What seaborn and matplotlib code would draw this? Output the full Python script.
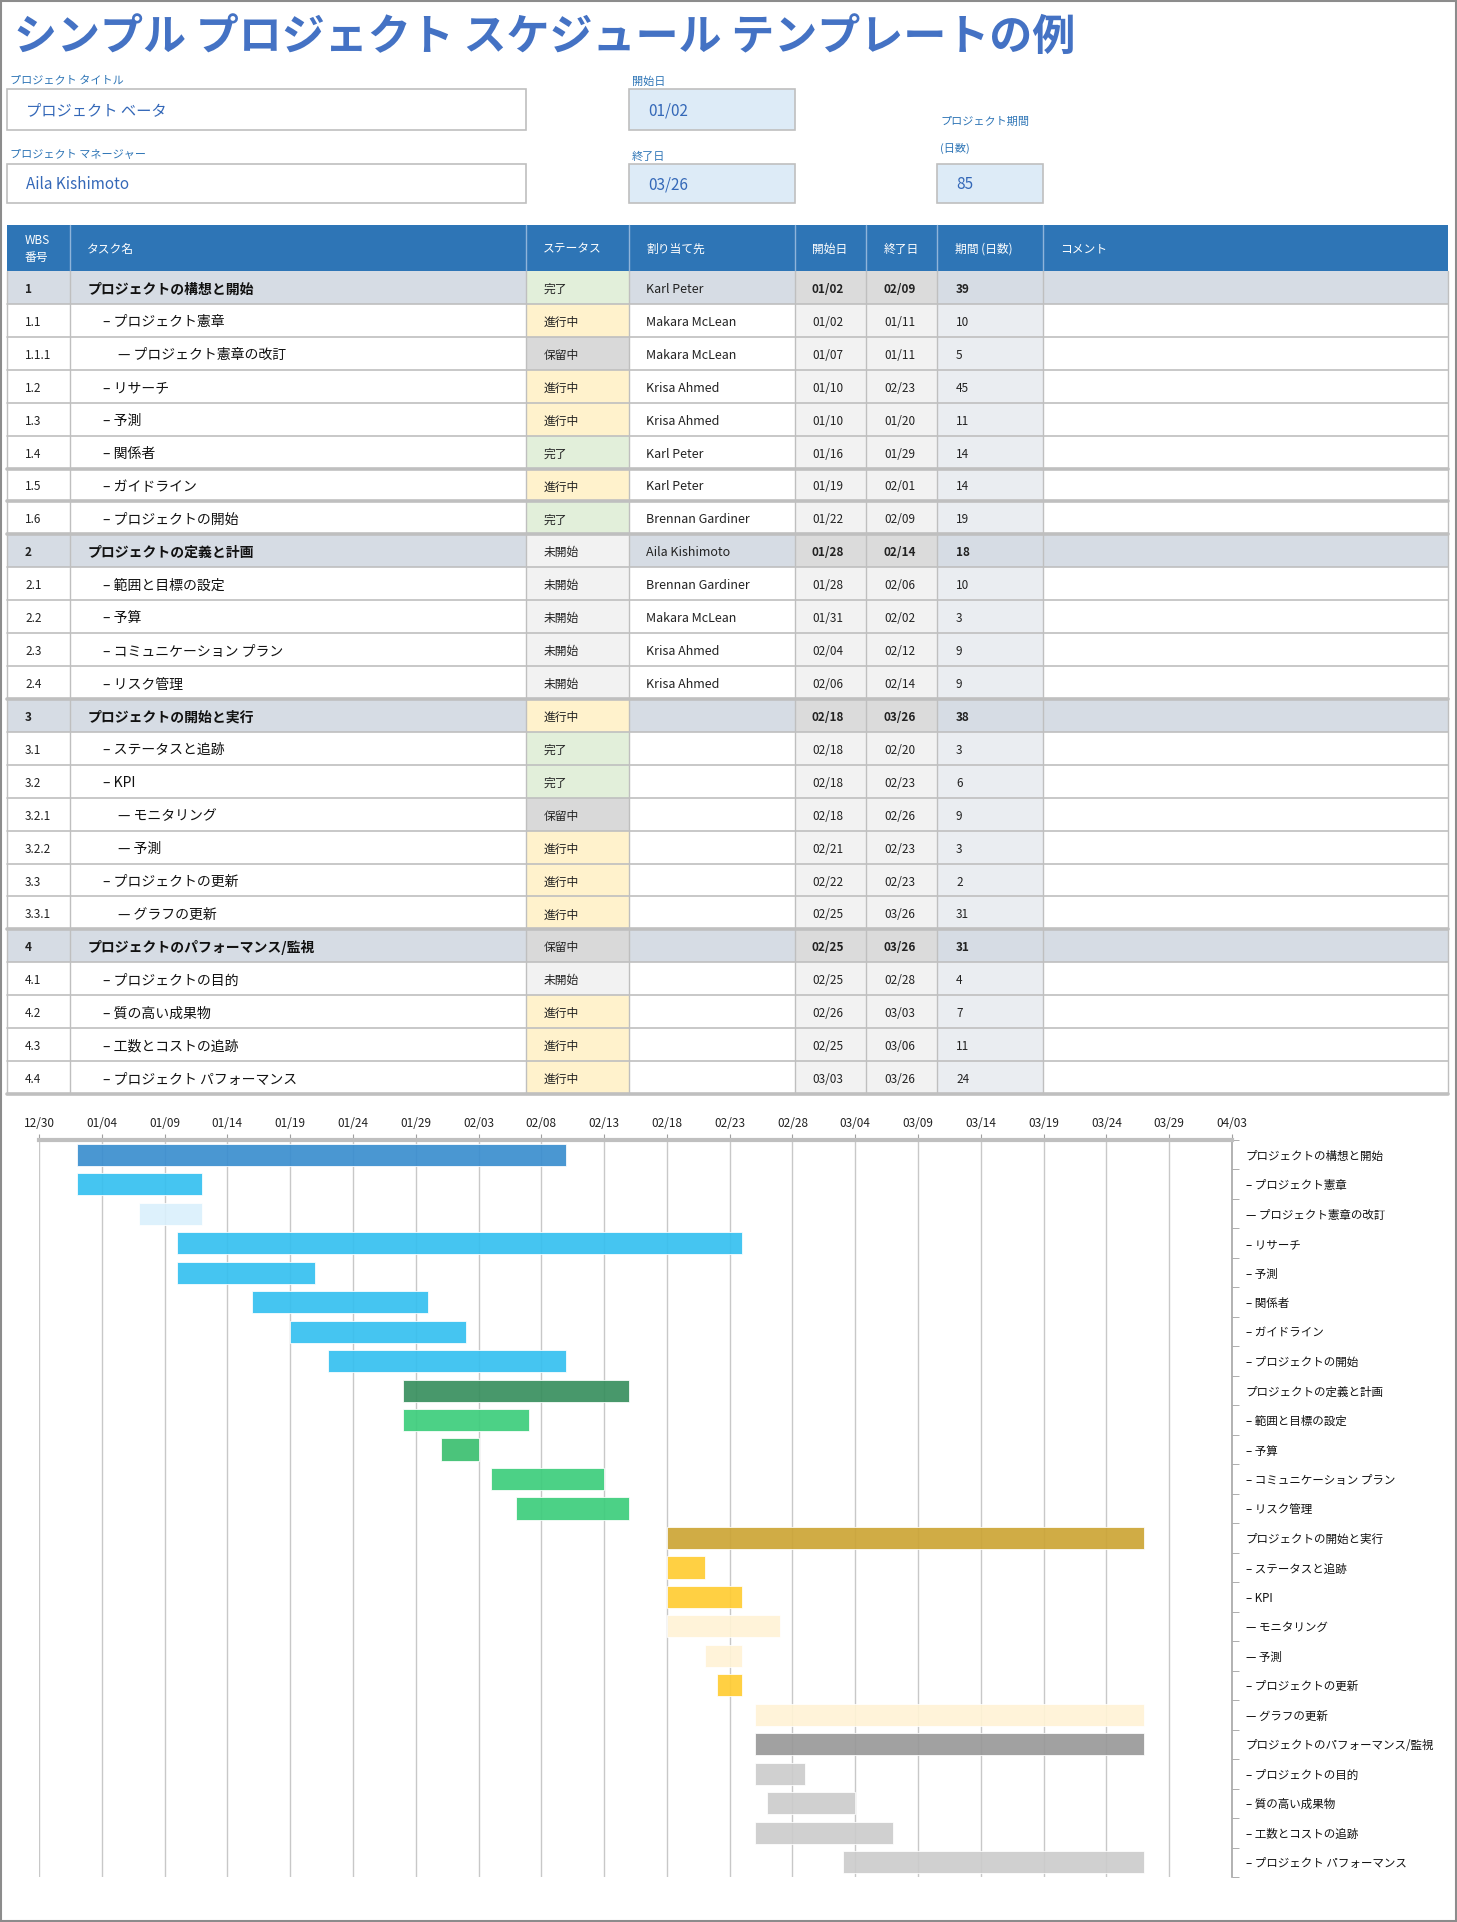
import numpy as np
import pandas as pd
import matplotlib
matplotlib.use('Agg')
import matplotlib.pyplot as plt
from matplotlib.patches import Rectangle
import seaborn as sns

# ヘッダー情報
page_title = 'シンプル プロジェクト スケジュール テンプレートの例'
project_title = 'プロジェクト ベータ'
project_manager = 'Aila Kishimoto'
project_start = '01/02'
project_end = '03/26'
project_days = '85'

# タスク表のデータ
wbs = ['1', '1.1', '1.1.1', '1.2', '1.3', '1.4', '1.5', '1.6',
       '2', '2.1', '2.2', '2.3', '2.4',
       '3', '3.1', '3.2', '3.2.1', '3.2.2', '3.3', '3.3.1',
       '4', '4.1', '4.2', '4.3', '4.4']
tasks = ['プロジェクトの構想と開始', '– プロジェクト憲章', '— プロジェクト憲章の改訂',
         '– リサーチ', '– 予測', '– 関係者', '– ガイドライン', '– プロジェクトの開始',
         'プロジェクトの定義と計画', '– 範囲と目標の設定', '– 予算',
         '– コミュニケーション プラン', '– リスク管理',
         'プロジェクトの開始と実行', '– ステータスと追跡', '– KPI', '— モニタリング',
         '— 予測', '– プロジェクトの更新', '— グラフの更新',
         'プロジェクトのパフォーマンス/監視', '– プロジェクトの目的', '– 質の高い成果物',
         '– 工数とコストの追跡', '– プロジェクト パフォーマンス']
status = ['完了', '進行中', '保留中', '進行中', '進行中', '完了', '進行中', '完了',
          '未開始', '未開始', '未開始', '未開始', '未開始',
          '進行中', '完了', '完了', '保留中', '進行中', '進行中', '進行中',
          '保留中', '未開始', '進行中', '進行中', '進行中']
assignees = ['Karl Peter', 'Makara McLean', 'Makara McLean', 'Krisa Ahmed',
             'Krisa Ahmed', 'Karl Peter', 'Karl Peter', 'Brennan Gardiner',
             'Aila Kishimoto', 'Brennan Gardiner', 'Makara McLean', 'Krisa Ahmed',
             'Krisa Ahmed'] + [''] * 12
start_dates = ['01/02', '01/02', '01/07', '01/10', '01/10', '01/16', '01/19', '01/22',
               '01/28', '01/28', '01/31', '02/04', '02/06',
               '02/18', '02/18', '02/18', '02/18', '02/21', '02/22', '02/25',
               '02/25', '02/25', '02/26', '02/25', '03/03']
end_dates = ['02/09', '01/11', '01/11', '02/23', '01/20', '01/29', '02/01', '02/09',
             '02/14', '02/06', '02/02', '02/12', '02/14',
             '03/26', '02/20', '02/23', '02/26', '02/23', '02/23', '03/26',
             '03/26', '02/28', '03/03', '03/06', '03/26']
durations = [39, 10, 5, 45, 11, 14, 14, 19,
             18, 10, 3, 9, 9,
             38, 3, 6, 9, 3, 2, 31,
             31, 4, 7, 11, 24]
tick_dates = ['12/30', '01/04', '01/09', '01/14', '01/19', '01/24', '01/29', '02/03',
              '02/08', '02/13', '02/18', '02/23', '02/28', '03/04', '03/09', '03/14',
              '03/19', '03/24', '03/29', '04/03']

# ガントバーの色
bar_colors = ['#3A8ECF', '#35C0F0', '#DAF0FC', '#35C0F0', '#35C0F0', '#35C0F0', '#35C0F0', '#35C0F0',
              '#388F5E', '#3DCD7C', '#3BBF70', '#3DCD7C', '#3DCD7C',
              '#CCA535', '#FFCC33', '#FFCC33', '#FFF3D6', '#FFF3D6', '#FFCC33', '#FFF3D6',
              '#999999', '#CCCCCC', '#CCCCCC', '#CCCCCC', '#CCCCCC']
status_colors = {'完了': '#E2EFDA', '進行中': '#FFF2CC', '保留中': '#D9D9D9', '未開始': '#F2F2F2'}

sns.set_style('white')
plt.rcParams['font.family'] = ['Noto Sans CJK JP', 'DejaVu Sans']

W, H = 1457, 1922
fig = plt.figure(figsize=(W / 100, H / 100), dpi=100)
ax = fig.add_axes([0, 0, 1, 1])
ax.set_xlim(0, W)
ax.set_ylim(H, 0)
ax.axis('off')

blue = '#2E75B6'
line = '#BFBFBF'

# タイトルと入力欄
ax.text(14, 37, page_title, fontsize=31, fontweight='bold', color='#4472C4', va='center')

def field(label_lines, x, y_label, box, value, fill):
    for k, t in enumerate(label_lines):
        ax.text(x + 3, y_label + k * 26, t, fontsize=8, color=blue, va='center')
    bx, by, bw, bh = box
    ax.add_patch(Rectangle((bx, by), bw, bh, facecolor=fill, edgecolor=line, lw=1.2))
    ax.text(bx + 19, by + bh / 2 + 1, value, fontsize=11, color='#3468B8', va='center')

field(['プロジェクト タイトル'], 7, 81, (7, 89, 519, 41), project_title, 'white')
field(['プロジェクト マネージャー'], 7, 155, (7, 164, 519, 39), project_manager, 'white')
field(['開始日'], 629, 82, (629, 89, 166, 41), project_start, '#DDEBF7')
field(['終了日'], 629, 157, (629, 164, 166, 39), project_end, '#DDEBF7')
field(['プロジェクト期間', '(日数)'], 937, 122, (937, 164, 106, 39), project_days, '#DDEBF7')

# 表
cols = [7, 70, 526, 629, 795, 866, 937, 1043, 1448]
head_top, head_bot, tab_bot = 225, 271, 1094
rh = (tab_bot - head_bot) / len(wbs)

ax.add_patch(Rectangle((cols[0], head_top), cols[-1] - cols[0], head_bot - head_top,
                       facecolor=blue, edgecolor='none'))
hy = (head_top + head_bot) / 2 + 1
ax.text(25, hy, 'WBS\n番号', fontsize=8.5, color='white', va='center', linespacing=1.3)
for x, t in zip([87, 543, 646, 812, 884, 955, 1060],
                ['タスク名', 'ステータス', '割り当て先', '開始日', '終了日', '期間 (日数)', 'コメント']):
    ax.text(x, hy, t, fontsize=8.5, color='white', va='center')
for x in cols[1:-1]:
    ax.plot([x, x], [head_top, head_bot], color='#8FB4DA', lw=1)

for i in range(len(wbs)):
    level = wbs[i].count('.')
    group = level == 0
    y0 = head_bot + i * rh
    base = '#D6DCE4' if group else 'white'
    fills = [base, base, status_colors[status[i]], base,
             '#DBDBDB' if group else '#F2F2F2', '#DBDBDB' if group else '#F2F2F2',
             '#D6DCE4' if group else '#EAEDF1', base]
    for j in range(8):
        ax.add_patch(Rectangle((cols[j], y0), cols[j + 1] - cols[j], rh,
                               facecolor=fills[j], edgecolor='none'))
    yc = y0 + rh / 2 + 2
    fw = 'bold' if group else 'normal'
    ax.text(25, yc, wbs[i], fontsize=8.5, fontweight=fw, va='center', color='#222')
    ax.text(88 + 15 * level, yc, tasks[i], fontsize=10, fontweight=fw, va='center', color='#111')
    ax.text(544, yc, status[i], fontsize=8.5, va='center', color='#222')
    ax.text(646, yc, assignees[i], fontsize=9, va='center', color='#222')
    ax.text(812, yc, start_dates[i], fontsize=8.5, fontweight=fw, va='center', color='#222')
    ax.text(884, yc, end_dates[i], fontsize=8.5, fontweight=fw, va='center', color='#222')
    ax.text(956, yc, str(durations[i]), fontsize=8.5, fontweight=fw, va='center', color='#222')

thick = {6, 7, 8, 13, 20, 25}
for i in range(1, len(wbs) + 1):
    y = head_bot + i * rh
    ax.plot([cols[0], cols[-1]], [y, y], color=line, lw=2.6 if i in thick else 1.2)
for x in cols:
    ax.plot([x, x], [head_bot, tab_bot], color=line, lw=1)

# ガントチャート
base_day = pd.Timestamp('2023-12-30')

def to_day(s):
    year = 2023 if s.startswith('12') else 2024
    return (pd.Timestamp(f'{year}/{s}') - base_day).days

gantt = pd.DataFrame({'wbs': wbs, 'task': tasks, 'days': durations,
                      'start': [to_day(d) for d in start_dates]})
tick_pos = [to_day(d) for d in tick_dates]

g_left, g_right, g_top, g_bot = 39, 1232, 1140, 1877
axg = fig.add_axes([g_left / W, 1 - g_bot / H, (g_right - g_left) / W, (g_bot - g_top) / H])
sns.barplot(data=gantt, x='days', y='wbs', order=wbs, orient='y', left=gantt['start'].values,
            width=0.75, color=bar_colors[0], saturation=1, errorbar=None,
            edgecolor='white', linewidth=0.6, alpha=0.92, ax=axg)
for p, c in zip(axg.patches, bar_colors):
    p.set_facecolor(c)

axg.set_xlim(tick_pos[0], tick_pos[-1])
axg.set_xticks(tick_pos)
axg.set_xticklabels(tick_dates, fontsize=8.5, color='#222')
axg.xaxis.tick_top()
axg.tick_params(axis='x', top=True, length=4, color='#A0A0A0', pad=3)
axg.grid(axis='x', color='#C8C8C8', lw=1)
axg.grid(axis='y', visible=False)
axg.set_axisbelow(True)

axg.yaxis.tick_right()
axg.set_yticks(range(len(wbs)))
axg.set_yticklabels(tasks, fontsize=8.3, color='#111')
axg.set_yticks(np.arange(-0.5, len(wbs), 1), minor=True)
axg.tick_params(axis='y', which='major', length=0, pad=10, right=False)
axg.tick_params(axis='y', which='minor', length=5, color='#A0A0A0', right=True, left=False)
axg.set_ylim(len(wbs) - 0.5, -0.5)
axg.set_xlabel('')
axg.set_ylabel('')
for s in ['left', 'bottom']:
    axg.spines[s].set_visible(False)
axg.spines['top'].set_color('#BFBFBF')
axg.spines['top'].set_linewidth(3)
axg.spines['right'].set_color('#A6A6A6')
axg.spines['right'].set_linewidth(1.2)

# 外枠
ax.add_patch(Rectangle((0.75, 0.75), W - 1.5, H - 1.5, facecolor='none', edgecolor='#8C8C8C', lw=1.5))

plt.savefig('out.png', dpi=100)
